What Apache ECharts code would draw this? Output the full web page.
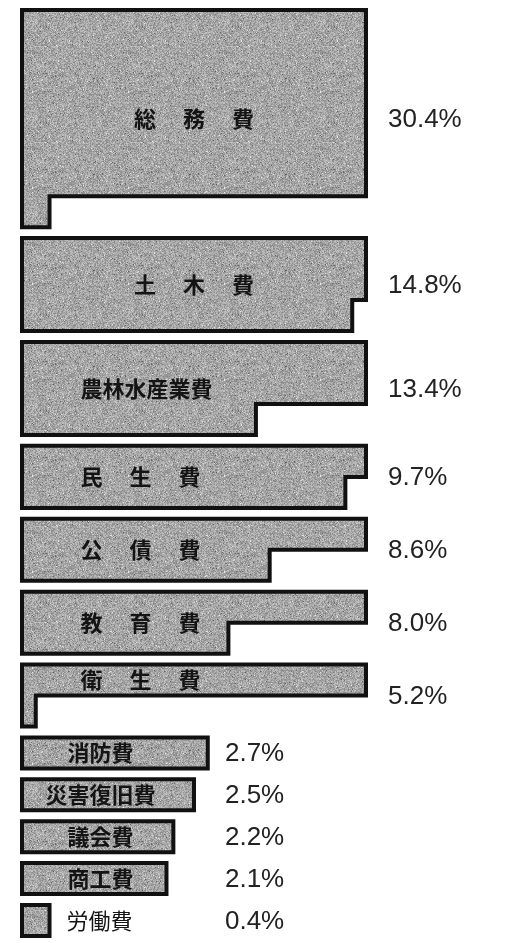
<!DOCTYPE html>
<html>
<head>
<meta charset="utf-8">
<script src="https://cdn.jsdelivr.net/npm/echarts@6/dist/echarts.min.js"></script>
<style>
html,body{margin:0;padding:0;background:#fff;}
#main{width:531px;height:943px;}
</style>
</head>
<body>
<div id="main"></div>
<script>
// ---- data ----
const categories = ['総務費','土木費','農林水産業費','民生費','公債費','教育費','衛生費','消防費','災害復旧費','議会費','商工費','労働費'];
const displayNames = ['総　 務　 費','土　 木　 費','農林水産業費','民　 生　 費','公　 債　 費','教　 育　 費','衛　 生　 費','消防費','災害復旧費','議会費','商工費','労働費'];
const values = [30.4, 14.8, 13.4, 9.7, 8.6, 8.0, 5.2, 2.7, 2.5, 2.2, 2.1, 0.4];

// ---- layout parameters ----
const ROW_CAP = 5.0;   // percent represented by one full-width row
const ROW_GAP = 0.35;  // gap between blocks, in row units

// wrap each value into full rows + a left-aligned tail row
let yCursor = 0;
const blocks = values.map((v, i) => {
  const n = Math.floor(v / ROW_CAP + 1e-9);
  const r = +(v - n * ROW_CAP).toFixed(4);
  const rows = n + (r > 0 ? 1 : 0);
  const b = [i, v, yCursor, n, r, rows];
  yCursor += rows + ROW_GAP;
  return b;
});
const totalRows = yCursor - ROW_GAP;
const smallMax = Math.max(...values.filter(v => v < ROW_CAP));

// speckled gray texture (deterministic)
function makeTexture() {
  const c = document.createElement('canvas');
  c.width = 96; c.height = 96;
  const ctx = c.getContext('2d');
  const img = ctx.createImageData(96, 96);
  let s = 987654321;
  const nx = () => { s = (s * 1103515245 + 12345) & 0x7fffffff; return s / 0x7fffffff; };
  for (let p = 0; p < 96 * 96; p++) {
    let g = 166 + (nx() - 0.5) * 60;
    if (nx() < 0.04) g -= 45;
    if (nx() < 0.03) g += 40;
    g = Math.max(60, Math.min(235, g));
    img.data[p * 4] = g; img.data[p * 4 + 1] = g; img.data[p * 4 + 2] = g; img.data[p * 4 + 3] = 255;
  }
  ctx.putImageData(img, 0, 0);
  return c;
}
const texture = makeTexture();

const chart = echarts.init(document.getElementById('main'), null, {renderer: 'canvas'});

function renderItem(params, api) {
  const i = api.value(0), v = api.value(1), y0 = api.value(2), n = api.value(3), r = api.value(4), rows = api.value(5);
  let pts;
  if (n === 0) pts = [[0, y0], [r, y0], [r, y0 + 1], [0, y0 + 1]];
  else if (r === 0) pts = [[0, y0], [ROW_CAP, y0], [ROW_CAP, y0 + n], [0, y0 + n]];
  else pts = [[0, y0], [ROW_CAP, y0], [ROW_CAP, y0 + n], [r, y0 + n], [r, y0 + n + 1], [0, y0 + n + 1]];
  const points = pts.map(p => api.coord(p));

  const yMid = y0 + rows / 2;
  const children = [{
    type: 'polygon',
    shape: {points: points},
    style: {fill: {image: texture, repeat: 'repeat'}, stroke: '#111', lineWidth: 4, lineJoin: 'miter'}
  }];

  // category name
  let nameX, nameY = yMid, align = 'center', weight = 'bold', outside = false;
  if (n === 0) {
    if (r < 1) { outside = true; }
    else nameX = 1.14;
  } else {
    const centered = rows >= 3 && (r < 0.2 * ROW_CAP || r > 0.8 * ROW_CAP);
    if (centered) nameX = ROW_CAP / 2;
    else { nameX = 0.85; align = 'left'; }
    if (n === 1 && r < 0.2 * ROW_CAP) nameY = y0 + 0.5;
  }
  let namePos;
  if (outside) {
    const p = api.coord([r, yMid]);
    namePos = [p[0] + 17, p[1]];
    align = 'left'; weight = 'normal';
  } else {
    namePos = api.coord([nameX, nameY]);
  }
  children.push({
    type: 'text',
    x: namePos[0], y: namePos[1],
    style: {
      text: displayNames[i], fill: '#141414',
      fontSize: 22, fontWeight: weight, fontFamily: '"Noto Sans CJK JP", sans-serif',
      align: align, verticalAlign: 'middle', textAlign: align, textVerticalAlign: 'middle'
    }
  });

  // value label
  const vx = v >= ROW_CAP ? ROW_CAP + 0.32 : smallMax + 0.25;
  const vp = api.coord([vx, yMid]);
  children.push({
    type: 'text',
    x: vp[0], y: vp[1] + 1,
    style: {
      text: v.toFixed(1) + '%', fill: '#222',
      fontSize: 26, fontFamily: '"Liberation Sans", Arial, sans-serif',
      align: 'left', verticalAlign: 'middle', textAlign: 'left', textVerticalAlign: 'middle'
    }
  });

  return {type: 'group', children: children};
}

chart.setOption({
  backgroundColor: '#ffffff',
  animation: false,
  grid: {left: 22, width: 344, top: 10, bottom: 7},
  xAxis: {type: 'value', min: 0, max: ROW_CAP, show: false},
  yAxis: {type: 'value', min: 0, max: totalRows, inverse: true, show: false},
  series: [{
    type: 'custom',
    name: '歳出',
    clip: false,
    renderItem: renderItem,
    encode: {x: 1, y: 2},
    data: blocks
  }]
});
</script>
</body>
</html>
